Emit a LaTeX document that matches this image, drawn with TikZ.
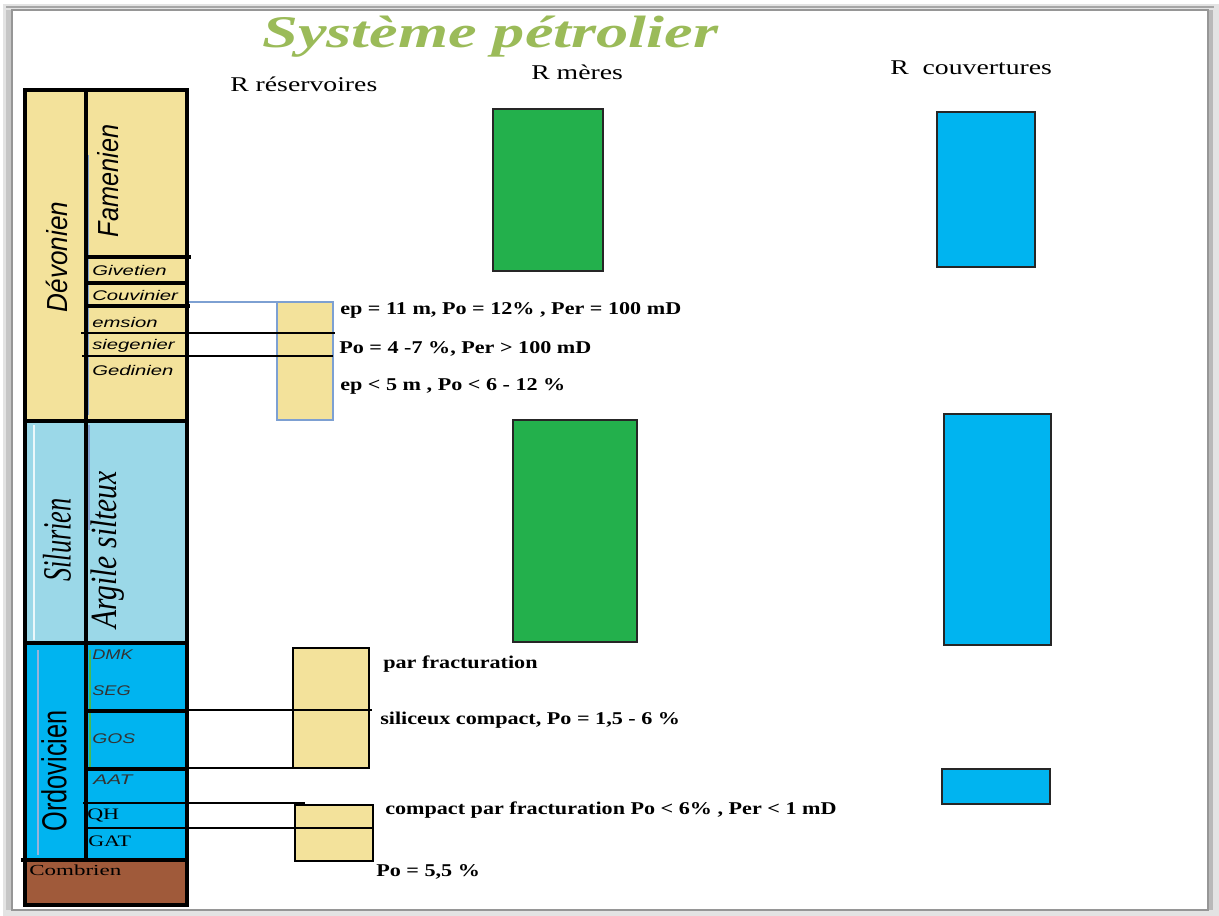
\documentclass[tikz,border=0pt]{standalone}
\usepackage{fontspec}
\setmainfont{Liberation Serif}
\setsansfont{Liberation Sans}
\usepackage{graphicx}
\definecolor{titlegreen}{RGB}{155,187,89}
\definecolor{devon}{RGB}{243,226,155}
\definecolor{silur}{RGB}{155,216,232}
\definecolor{ordo}{RGB}{0,180,240}
\definecolor{cambr}{RGB}{160,90,58}
\definecolor{srcgreen}{RGB}{35,176,76}
\definecolor{thinblue}{RGB}{125,160,210}
\definecolor{framegray}{RGB}{150,150,150}
\newcommand{\stretchx}[2]{\scalebox{#1}[1]{#2}}

\begin{document}
\begin{tikzpicture}[x=0.75pt,y=-0.75pt,
  cell/.style={draw=black,line width=2.6pt},
  link/.style={draw=black,line width=1.8pt},
  resbox/.style={fill=devon,draw=black,line width=1.2pt},
  rockbox/.style={draw=black!85,line width=1.3pt},
  head/.style={font=\fontsize{15.75}{18}\selectfont,anchor=base west,inner sep=0pt},
  note/.style={font=\fontsize{13.5}{16}\selectfont\bfseries,anchor=west,inner sep=0pt},
  stage/.style={font=\sffamily\itshape\fontsize{10.5}{12}\selectfont,anchor=west,inner sep=0pt},
  unit/.style={font=\sffamily\itshape\fontsize{10.5}{12}\selectfont,anchor=west,inner sep=0pt,text=black!80},
  serifunit/.style={font=\fontsize{12}{14}\selectfont,anchor=west,inner sep=0pt},
  vlabel/.style={rotate=90,inner sep=0pt}
]
\useasboundingbox (0,0) rectangle (1219,916);

% page with its shadowed frame
\fill[gray!22] (3,4) rectangle (1219,916);
\fill[white] (12,10) rectangle (1208,910);
\fill[gray!55] (1208,10) rectangle (1213,910);
\fill[gray!45] (6,10) rectangle (12,910);
\draw[framegray,line width=1.2pt] (12,10) rectangle (1208,910);
\draw[gray!70,line width=1.5pt] (6,7) -- (1214,7);

% title and column headings
\node[font=\bfseries\itshape\fontsize{34}{40}\selectfont,text=titlegreen,anchor=base west,inner sep=0pt]
  (title) at (262,48) {\stretchx{1.42}{Système pétrolier}};
\node[head] (hres) at (230,92) {\stretchx{1.32}{R réservoires}};
\node[head] (hmer) at (531,80) {\stretchx{1.32}{R mères}};
\node[head] (hcov) at (890,75) {\stretchx{1.32}{R\ \ couvertures}};

% stratigraphic column: fills
\fill[devon] (25,90) rectangle (187,421);
\fill[silur] (25,421) rectangle (187,643);
\fill[ordo] (25,643) rectangle (187,860);
\fill[cambr] (25,860) rectangle (187,905);

% thin guide lines inside the column
\draw[thinblue,line width=0.8pt] (88,155) -- (88,415);
\draw[thinblue,line width=0.8pt] (89,425) -- (89,530);
\draw[white!80!silur,line width=1pt] (34,425) -- (34,640);
\draw[green!60!black!70,line width=0.8pt] (90,650) -- (90,768);
\draw[thinblue!80!white,line width=0.8pt] (38,650) -- (38,855);

% reservoir boxes
\draw[thinblue,fill=devon,line width=0.8pt] (277,302) rectangle (333,420);
\draw[thinblue,line width=0.8pt] (187,302) -- (277,302);
\draw[resbox] (293,648) rectangle (369,768);
\draw[resbox] (295,805) rectangle (373,861);

% stratigraphic column: borders
\draw[cell] (25,90) rectangle (187,421);
\draw[cell] (25,421) rectangle (187,643);
\draw[cell] (25,643) rectangle (187,860);
\draw[cell] (25,860) rectangle (187,905);
\draw[cell] (21,860) -- (25,860);
\draw[cell] (86,90) -- (86,860);
\draw[cell] (86,257) -- (191,257);
\draw[cell] (86,283) -- (187,283);
\draw[cell] (86,306) -- (190,306);
\draw[cell] (86,711) -- (187,711);
\draw[cell] (86,769) -- (187,769);

% horizons carried over to the reservoirs
\draw[link] (81,333) -- (335,333);
\draw[link] (82,356) -- (333,356);
\draw[link] (182,710) -- (372,710);
\draw[link] (187,768) -- (369,768);
\draw[link] (83,803) -- (305,803);
\draw[link] (85,828) -- (373,828);

% source rocks and seals
\draw[rockbox,fill=srcgreen] (493,109) rectangle (603,271);
\draw[rockbox,fill=srcgreen] (513,420) rectangle (637,642);
\draw[rockbox,fill=ordo] (937,112) rectangle (1035,267);
\draw[rockbox,fill=ordo] (944,414) rectangle (1051,645);
\draw[rockbox,fill=ordo] (942,769) rectangle (1050,804);

% systems (vertical labels)
\node[vlabel,font=\sffamily\itshape\fontsize{21.75}{24}\selectfont] (devonien) at (57,257) {\stretchx{0.9}{Dévonien}};
\node[vlabel,font=\sffamily\itshape\fontsize{21.75}{24}\selectfont] (famenien) at (108,181) {\stretchx{0.87}{Famenien}};
\node[vlabel,font=\itshape\fontsize{30}{32}\selectfont] (silurien) at (57,540) {\stretchx{0.66}{Silurien}};
\node[vlabel,font=\itshape\fontsize{27.75}{30}\selectfont] (argile) at (108,550) {\stretchx{0.8}{Argile silteux}};
\node[vlabel,font=\sffamily\fontsize{26}{28}\selectfont] (ordovicien) at (54,771) {\stretchx{0.73}{Ordovicien}};

% stages of the Devonian
\node[stage] (givetien) at (92,270) {\stretchx{1.45}{Givetien}};
\node[stage] (couvinier) at (92,295) {\stretchx{1.45}{Couvinier}};
\node[stage] (emsion) at (92,322) {\stretchx{1.45}{emsion}};
\node[stage] (siegenier) at (92,346) {\stretchx{1.45}{siegenier}};
\node[stage] (gedinien) at (92,370) {\stretchx{1.45}{Gedinien}};

% units of the Ordovician and Cambrian
\node[unit] (dmk) at (92,655) {\stretchx{1.3}{DMK}};
\node[unit] (seg) at (92,691) {\stretchx{1.3}{SEG}};
\node[unit] (gos) at (92,739) {\stretchx{1.38}{GOS}};
\node[unit] (aat) at (93,780) {\stretchx{1.5}{AAT}};
\node[serifunit] (qh) at (87,815) {\stretchx{1.38}{QH}};
\node[serifunit] (gat) at (88,841) {\stretchx{1.38}{GAT}};
\node[font=\fontsize{11.5}{13}\selectfont,anchor=west,inner sep=0pt] (combrien) at (29,870) {\stretchx{1.5}{Combrien}};

% reservoir properties
\node[note] (n1) at (340,310) {\stretchx{1.23}{ep = 11 m, Po = 12\% , Per = 100 mD}};
\node[note] (n2) at (339,349) {\stretchx{1.23}{Po = 4 -7 \%, Per > 100 mD}};
\node[note] (n3) at (340,386) {\stretchx{1.23}{ep < 5 m , Po < 6 - 12 \%}};
\node[note] (n4) at (383,664) {\stretchx{1.23}{par fracturation}};
\node[note] (n5) at (380,720) {\stretchx{1.23}{siliceux compact, Po = 1,5 - 6 \%}};
\node[note] (n6) at (385,810) {\stretchx{1.23}{compact par fracturation Po < 6\% , Per < 1 mD}};
\node[note] (n7) at (376,872) {\stretchx{1.23}{Po = 5,5 \%}};
\end{tikzpicture}
\end{document}
